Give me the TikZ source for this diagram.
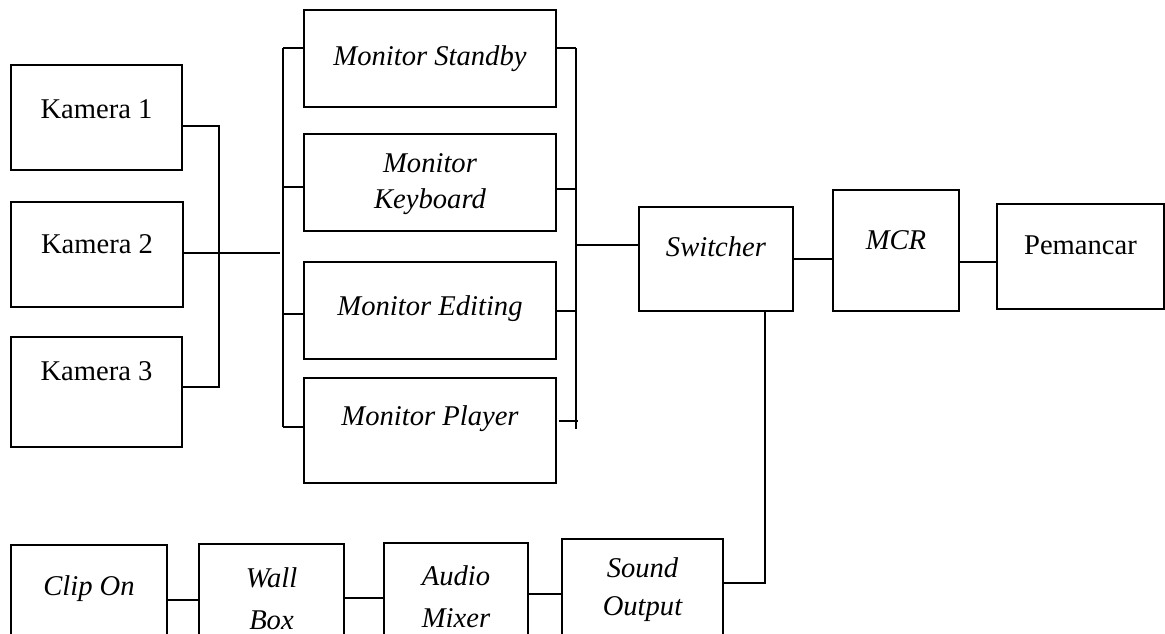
\documentclass[tikz,border=0pt]{standalone}
\usepackage{fontspec}
\setmainfont{Liberation Serif}
\begin{document}
\begin{tikzpicture}[x=1pt,y=-1pt,
  blk/.style={draw=black,line width=2.4pt,inner sep=0pt,outer sep=0pt},
  txt/.style={inner sep=0pt,anchor=base,font=\fontsize{28.6}{34}\selectfont},
  itx/.style={txt,font=\fontsize{28.6}{34}\selectfont\itshape},
  wire/.style={draw=black,line width=1.2pt}]
\clip (0,0) rectangle (1165,633);
\fill[white] (0,0) rectangle (1165,633);
% boxes: (left,top) rectangle (right,bottom)
\newcommand\bx[5]{\node[blk,minimum width={#4-#2},minimum height={#5-#3}] (#1) at ({(#2+#4)/2},{(#3+#5)/2}) {};}
\bx{k1}{11}{65}{182}{170}
\bx{k2}{11}{202}{183}{307}
\bx{k3}{11}{337}{182}{447}
\bx{ms}{304}{10}{556}{107}
\bx{mk}{304}{134}{556}{231}
\bx{me}{304}{262}{556}{359}
\bx{mp}{304}{378}{556}{483}
\bx{sw}{639}{207}{793}{311}
\bx{mcr}{833}{190}{959}{311}
\bx{pem}{997}{204}{1164}{309}
\bx{clip}{11}{545}{167}{700}
\bx{wall}{199}{544}{344}{700}
\bx{aud}{384}{543}{528}{700}
\bx{snd}{562}{539}{723}{700}
% texts
\node[txt] (tk1) at (96.5,118) {Kamera 1};
\node[txt] (tk2) at (97,253) {Kamera 2};
\node[txt] (tk3) at (96.5,380) {Kamera 3};
\node[itx] (tms) at (430,65) {Monitor Standby};
\node[itx] (tmk1) at (430,172) {Monitor};
\node[itx] (tmk2) at (430,208) {Keyboard};
\node[itx] (tme) at (430,315) {Monitor Editing};
\node[itx] (tmp) at (430,425) {Monitor Player};
\node[itx] (tsw) at (716,256) {Switcher};
\node[itx] (tmcr) at (896,249) {MCR};
\node[txt] (tpem) at (1080.5,254) {Pemancar};
\node[itx] (tclip) at (89,595) {Clip On};
\node[itx] (twall1) at (271.5,587) {Wall};
\node[itx] (twall2) at (271.5,629) {Box};
\node[itx] (taud1) at (456,585) {Audio};
\node[itx] (taud2) at (456,627) {Mixer};
\node[itx] (tsnd1) at (642.5,577) {Sound};
\node[itx] (tsnd2) at (642.5,615) {Output};
% bracket coordinates
\coordinate (a1) at (219,126);
\coordinate (a3) at (219,387);
\coordinate (a2) at (280,253);
\coordinate (b1) at (283,48);
\coordinate (b2) at (283,187);
\coordinate (b3) at (283,314);
\coordinate (b4) at (283,427);
\coordinate (c1) at (576,48);
\coordinate (c2) at (576,189);
\coordinate (c3) at (576,311);
\coordinate (c4) at (578,421);
\coordinate (c4s) at (559,421);
\coordinate (cbot) at (576,429);
\coordinate (cs) at (575,245);
\coordinate (d1) at (765,583);
% wires
\draw[wire] (k1.east |- a1) -- (a1) -- (a3) -- (k3.east |- a3);
\draw[wire] (k2.east |- a2) -- (a2);
\draw[wire] (b1) -- (b4);
\draw[wire] (b1) -- (ms.west |- b1);
\draw[wire] (b2) -- (mk.west |- b2);
\draw[wire] (b3) -- (me.west |- b3);
\draw[wire] (b4) -- (mp.west |- b4);
\draw[wire] (c1) -- (cbot);
\draw[wire] (ms.east |- c1) -- (c1);
\draw[wire] (mk.east |- c2) -- (c2);
\draw[wire] (me.east |- c3) -- (c3);
\draw[wire] (c4s) -- (c4);
\draw[wire] (cs) -- (sw.west |- cs);
\draw[wire] (sw.east |- 0,259) -- (mcr.west |- 0,259);
\draw[wire] (mcr.east |- 0,262) -- (pem.west |- 0,262);
\draw[wire] (sw.south -| d1) -- (d1) -- (snd.east |- d1);
\draw[wire] (clip.east |- 0,600) -- (wall.west |- 0,600);
\draw[wire] (wall.east |- 0,598) -- (aud.west |- 0,598);
\draw[wire] (aud.east |- 0,594) -- (snd.west |- 0,594);
\end{tikzpicture}
\end{document}
